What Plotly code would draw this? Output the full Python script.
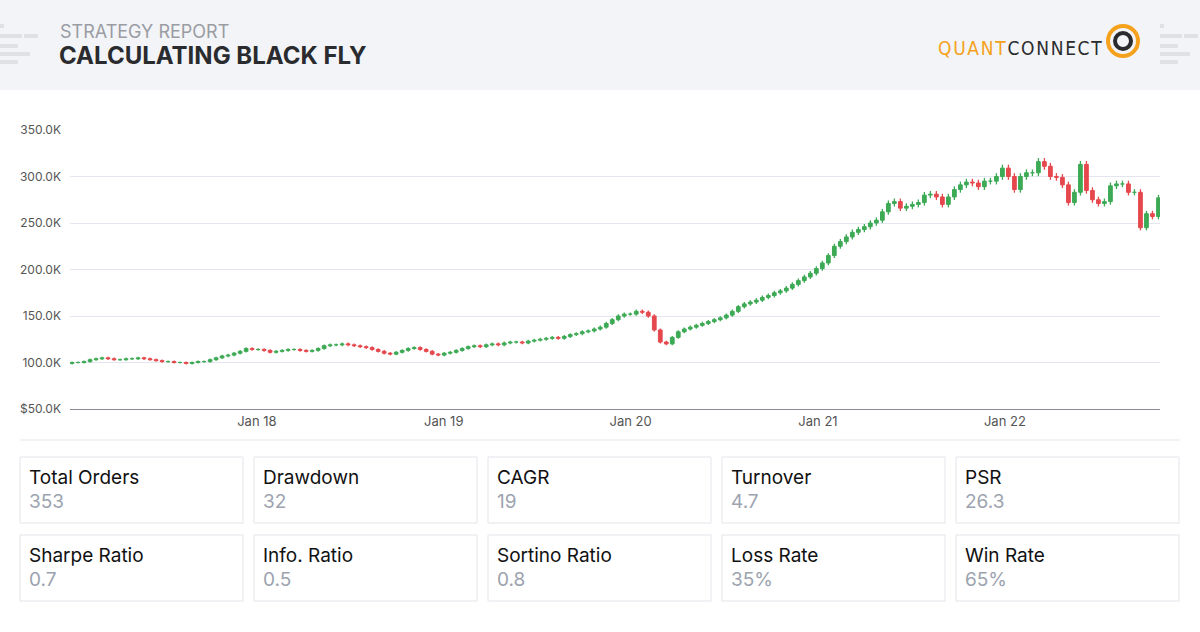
import plotly.graph_objects as go
import pandas as pd

closes = [
 100,100,101,103,104,105,104,103,103,104,104,105,104,103,102,101,101,100,100,99,100,101,101,103,105,107,108,110,112,115,114,
 114,113,111,112,113,114,114,113,112,113,115,118,119,119,120,119,118,117,116,114,112,110,109,111,113,115,116,114,112,109,108,
 110,111,113,115,117,118,117,119,120,119,121,122,122,121,123,124,125,126,127,126,128,130,131,133,134,136,138,142,146,150,152,
 152,155,154,150,135,122,120,127,133,136,138,140,142,144,146,148,151,155,160,163,165,167,170,172,175,177,180,184,188,192,196,
 201,207,215,225,230,235,240,243,246,250,253,262,271,273,266,268,270,272,280,281,278,270,278,286,291,294,293,289,295,295,300,
 309,300,286,300,304,304,316,311,300,299,291,272,283,313,285,275,271,273,290,292,292,283,283,245,260,257,277]
closes = [c * 1000 for c in closes]
opens = [99000] + closes[:-1]
highs = [max(o, c) * 1.012 for o, c in zip(opens, closes)]
lows = [min(o, c) * 0.988 for o, c in zip(opens, closes)]
dates = pd.date_range("2017-01-05", "2022-10-28", periods=len(closes))

y_ticks = [50000, 100000, 150000, 200000, 250000, 300000, 350000]
y_labels = ["$50.0K", "100.0K", "150.0K", "200.0K", "250.0K", "300.0K", "350.0K"]
x_ticks = ["2018-01-01", "2019-01-01", "2020-01-01", "2021-01-01", "2022-01-01"]
x_labels = ["Jan 18", "Jan 19", "Jan 20", "Jan 21", "Jan 22"]
metric_names = ["Total Orders", "Drawdown", "CAGR", "Turnover", "PSR",
                "Sharpe Ratio", "Info. Ratio", "Sortino Ratio", "Loss Rate", "Win Rate"]
metric_values = ["353", "32", "19", "4.7", "26.3", "0.7", "0.5", "0.8", "35%", "65%"]

W, H = 1200, 632
def px(x): return x / W
def py(y): return 1 - y / H

GREEN, RED = "#3daa55", "#e5484d"
fig = go.Figure()
spacing_ms = (dates[1] - dates[0]).total_seconds() * 1000
for up, col in ((True, GREEN), (False, RED)):
    idx = [i for i in range(len(closes)) if (closes[i] >= opens[i]) == up]
    wx, wy = [], []
    for i in idx:
        wx += [dates[i], dates[i], None]
        wy += [lows[i], highs[i], None]
    fig.add_trace(go.Scatter(x=wx, y=wy, mode="lines", line=dict(color=col, width=1.3),
                             showlegend=False, hoverinfo="skip"))
    fig.add_trace(go.Bar(x=[dates[i] for i in idx],
                         base=[min(opens[i], closes[i]) for i in idx],
                         y=[abs(closes[i] - opens[i]) for i in idx],
                         width=spacing_ms * 0.62, marker=dict(color=col, line=dict(color=col, width=1)),
                         showlegend=False))

def rect(x0, x1, y0, y1, **kw):
    return dict(type="rect", xref="paper", yref="paper", x0=px(x0), x1=px(x1), y0=py(y1), y1=py(y0), **kw)

shapes = [rect(0, 1200, 0, 90, fillcolor="#f3f4f7", line=dict(width=0), layer="below"),
          dict(type="line", xref="paper", yref="paper", x0=px(20), x1=px(1180), y0=py(440), y1=py(440),
               line=dict(color="#e5e7eb", width=1))]
for (x0, x1, y) in [(0, 4, 24), (0, 22, 34), (24, 38, 34), (0, 18, 44), (0, 30, 52), (0, 18, 60)]:
    for base in (0, 1160):
        shapes.append(rect(base + x0, base + x1, y, y + 4, fillcolor="#dfe1e5", line=dict(width=0)))

def ann(text, x, y, size, color, **kw):
    return dict(text=text, xref="paper", yref="paper", x=px(x), y=py(y), xanchor=kw.pop("xanchor", "left"),
                yanchor="middle", font=dict(size=size, color=color, family=kw.pop("family", "Inter")),
                showarrow=False, **kw)

hs = "\u200a"
annotations = [
    ann("STRATEGY REPORT", 58, 31, 18, "#9a9ca3"),
    ann("<b>CALCULATING BLACK FLY</b>", 57, 55, 24, "#2a2b2e"),
    ann("<span style='color:#f5a11c'>" + hs.join("QUANT") + hs + "</span><span style='color:#2a2b2e'>"
        + hs.join("CONNECT") + "</span>",
        1104, 48, 19, "#2a2b2e", xanchor="right", family="DejaVu Sans Condensed"),
]
shapes.append(dict(type="circle", xref="paper", yref="paper", x0=px(1108), x1=px(1138), y0=py(56), y1=py(26),
                   line=dict(color="#f5a11c", width=4)))
shapes.append(dict(type="circle", xref="paper", yref="paper", x0=px(1115), x1=px(1131), y0=py(49), y1=py(33),
                   line=dict(color="#2a2b2e", width=4)))
for i, (n, v) in enumerate(zip(metric_names, metric_values)):
    r, c = divmod(i, 5)
    x0 = 20 + c * 234
    y0 = 457 + r * 78
    shapes.append(rect(x0, x0 + 223, y0, y0 + 66, line=dict(color="#e3e5ea", width=1)))
    annotations.append(ann(n, x0 + 7, y0 + 20, 19, "#111111"))
    annotations.append(ann(v, x0 + 7, y0 + 44, 19, "#9ca3af"))

fig.update_layout(
    width=W, height=H, margin=dict(l=0, r=0, t=0, b=0, autoexpand=False),
    paper_bgcolor="white", plot_bgcolor="white", barmode="overlay",
    shapes=shapes, annotations=annotations,
    xaxis=dict(domain=[px(70), px(1160)], range=["2017-01-01", "2022-10-31"],
               showgrid=False, showline=True, linecolor="#8a8d93", tickvals=x_ticks, ticktext=x_labels,
               ticks="", automargin=False, tickfont=dict(size=13, color="#555", family="Inter")),
    yaxis=dict(domain=[py(409), py(130)], range=[50000, 350000], tickvals=y_ticks, ticktext=y_labels,
               showgrid=True, gridcolor="#e3e6ee", zeroline=False, ticks="", automargin=False,
               ticklabelstandoff=8, tickfont=dict(size=12, color="#555", family="Inter")),
    font=dict(family="Inter"),
)
fig.write_html("out.html", config={"displayModeBar": False},
               post_script="document.body.style.margin='0';")
